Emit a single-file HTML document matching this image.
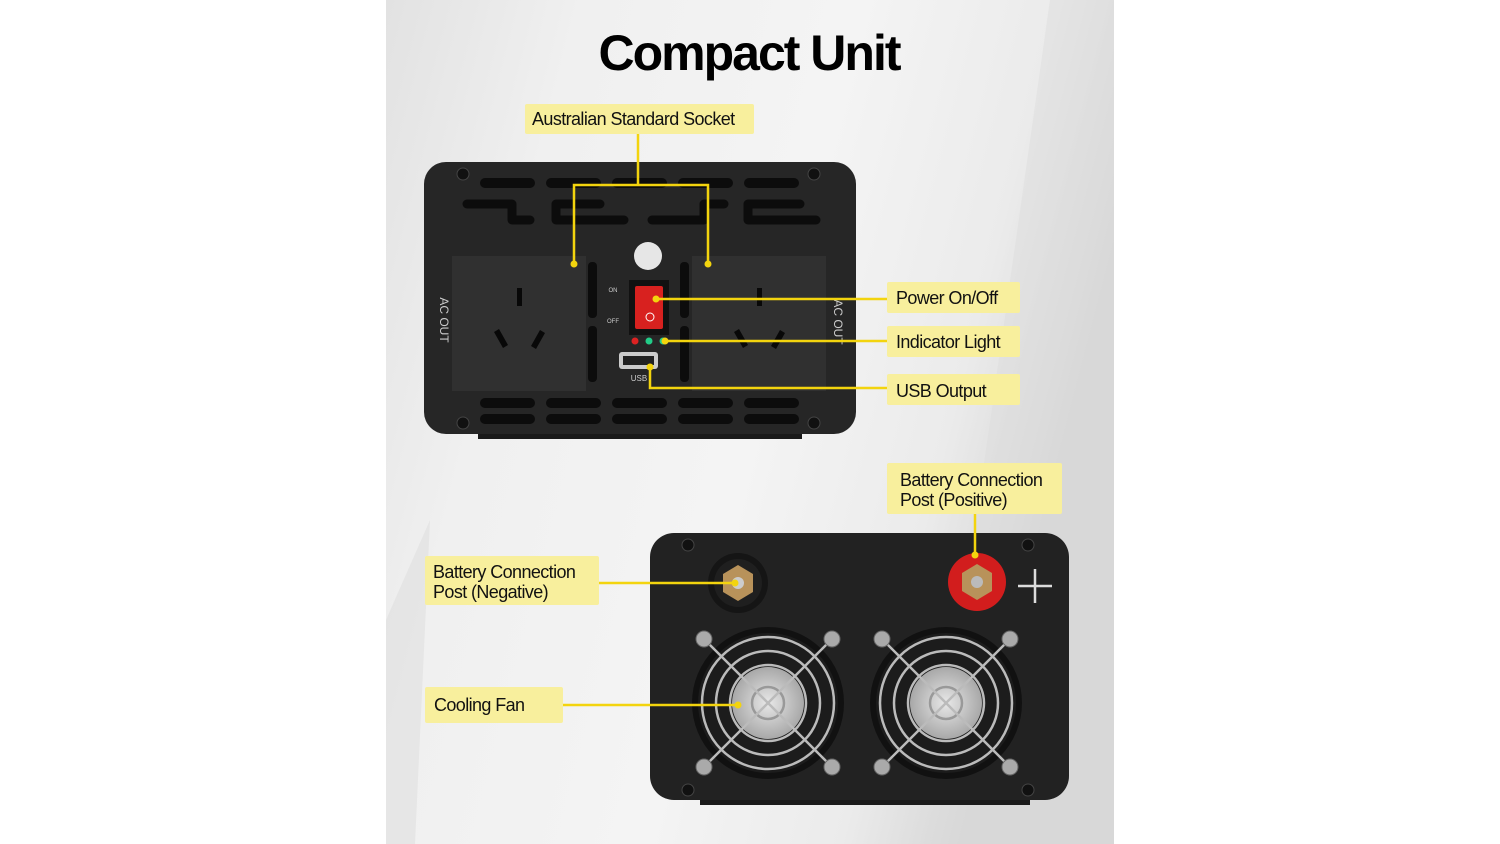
<!DOCTYPE html>
<html><head><meta charset="utf-8"><style>
html,body{margin:0;padding:0;background:#fff;width:1500px;height:844px;overflow:hidden}
svg{display:block}
text{font-family:"Liberation Sans",sans-serif}
.lb{font-size:18px;fill:#111;letter-spacing:-0.6px}
</style></head><body>
<svg width="1500" height="844" viewBox="0 0 1500 844" xmlns="http://www.w3.org/2000/svg">
<defs>
<linearGradient id="bg" x1="0" y1="0" x2="1" y2="0.3">
<stop offset="0" stop-color="#e2e2e2"/><stop offset="0.25" stop-color="#f0f0f0"/><stop offset="0.6" stop-color="#f4f4f4"/><stop offset="0.85" stop-color="#ebebeb"/><stop offset="1" stop-color="#d6d6d6"/>
</linearGradient>
<radialGradient id="fanc" cx="0.5" cy="0.5" r="0.5"><stop offset="0" stop-color="#e8e8e8"/><stop offset="1" stop-color="#a8a8a8"/></radialGradient>
<g id="fan">
<circle r="76" fill="#111"/>
<circle r="70" fill="#1c1c1c"/>
<circle r="36" fill="url(#fanc)"/>
<circle r="66" fill="none" stroke="#bbb" stroke-width="2.5"/>
<circle r="52" fill="none" stroke="#bbb" stroke-width="2.5"/>
<circle r="38" fill="none" stroke="#bbb" stroke-width="2.5"/>
<circle r="16" fill="none" stroke="#999" stroke-width="2.5"/>
<line x1="-62" y1="-62" x2="62" y2="62" stroke="#bbb" stroke-width="2.5"/>
<line x1="62" y1="-62" x2="-62" y2="62" stroke="#bbb" stroke-width="2.5"/>
<circle cx="-64" cy="-64" r="8" fill="#aaa" stroke="#666"/>
<circle cx="64" cy="-64" r="8" fill="#aaa" stroke="#666"/>
<circle cx="-64" cy="64" r="8" fill="#aaa" stroke="#666"/>
<circle cx="64" cy="64" r="8" fill="#aaa" stroke="#666"/>
</g>
</defs>
<rect x="386" y="0" width="728" height="844" fill="url(#bg)"/>
<polygon points="1050,0 1114,0 1114,844 930,844" fill="#dcdcdc" opacity="0.45"/>
<polygon points="386,620 430,520 415,844 386,844" fill="#d6d6d6" opacity="0.4"/>
<text x="749" y="70" text-anchor="middle" font-size="50" font-weight="bold" fill="#000" letter-spacing="-2">Compact Unit</text>

<!-- top device -->
<rect x="478" y="426" width="324" height="13" fill="#1a1a1a"/>
<rect x="424" y="162" width="432" height="272" rx="22" fill="#262626"/>
<g fill="#0c0c0c">
<rect x="480" y="178" width="55" height="10" rx="5"/><rect x="546" y="178" width="55" height="10" rx="5"/><rect x="612" y="178" width="55" height="10" rx="5"/><rect x="678" y="178" width="55" height="10" rx="5"/><rect x="744" y="178" width="55" height="10" rx="5"/>
<rect x="480" y="398" width="55" height="10" rx="5"/><rect x="546" y="398" width="55" height="10" rx="5"/><rect x="612" y="398" width="55" height="10" rx="5"/><rect x="678" y="398" width="55" height="10" rx="5"/><rect x="744" y="398" width="55" height="10" rx="5"/>
<rect x="480" y="414" width="55" height="10" rx="5"/><rect x="546" y="414" width="55" height="10" rx="5"/><rect x="612" y="414" width="55" height="10" rx="5"/><rect x="678" y="414" width="55" height="10" rx="5"/><rect x="744" y="414" width="55" height="10" rx="5"/>
<rect x="588" y="262" width="9" height="56" rx="4"/><rect x="588" y="326" width="9" height="56" rx="4"/>
<rect x="680" y="262" width="9" height="56" rx="4"/><rect x="680" y="326" width="9" height="56" rx="4"/>
</g>
<g stroke="#0c0c0c" stroke-width="9" stroke-linecap="round" stroke-linejoin="round" fill="none">
<path d="M467,204 H512 V220 H530"/>
<path d="M600,204 H556 V220 H624"/>
<path d="M652,220 H704 V204 H724"/>
<path d="M816,220 H748 V204 H800"/>
</g>
<g fill="#111" stroke="#444"><circle cx="463" cy="174" r="6"/><circle cx="814" cy="174" r="6"/><circle cx="463" cy="423" r="6"/><circle cx="814" cy="423" r="6"/></g>
<rect x="452" y="256" width="134" height="135" fill="#303030"/>
<rect x="692" y="256" width="134" height="135" fill="#303030"/>
<g fill="#080808">
<rect x="517" y="288" width="5" height="18"/><path d="M494,332 l5,-3 l9,16 l-5,3z"/><path d="M540,330 l5,3 l-9,16 l-5,-3z"/>
<rect x="757" y="288" width="5" height="18"/><path d="M734,332 l5,-3 l9,16 l-5,3z"/><path d="M780,330 l5,3 l-9,16 l-5,-3z"/>
</g>
<text x="440" y="320" font-size="12" fill="#ccc" transform="rotate(90 440 320)" text-anchor="middle">AC  OUT</text>
<text x="834" y="322" font-size="12" fill="#ccc" transform="rotate(90 834 322)" text-anchor="middle">AC  OUT</text>
<circle cx="648" cy="256" r="14" fill="#e6e6e6"/>
<rect x="629" y="280" width="40" height="55" fill="#111"/>
<rect x="635" y="286" width="28" height="43" rx="2" fill="#d8211f"/>
<circle cx="650" cy="317" r="4" fill="none" stroke="#fff" stroke-width="1"/>
<text x="613" y="292" font-size="6" fill="#ccc" text-anchor="middle">ON</text>
<text x="613" y="323" font-size="6" fill="#ccc" text-anchor="middle">OFF</text>
<circle cx="635" cy="341" r="3.5" fill="#d22"/><circle cx="649" cy="341" r="3.5" fill="#2c8"/><circle cx="663" cy="341" r="3.5" fill="#2c8"/>
<rect x="619" y="352" width="39" height="17" rx="3" fill="#ccc"/><rect x="623" y="356" width="31" height="9" fill="#222"/>
<text x="639" y="381" font-size="8" fill="#ccc" text-anchor="middle">USB</text>

<!-- bottom device -->
<rect x="700" y="795" width="330" height="10" fill="#1a1a1a"/>
<rect x="650" y="533" width="419" height="267" rx="24" fill="#222"/>
<g fill="#111" stroke="#444"><circle cx="688" cy="545" r="6"/><circle cx="1028" cy="545" r="6"/><circle cx="688" cy="790" r="6"/><circle cx="1028" cy="790" r="6"/></g>
<circle cx="738" cy="583" r="30" fill="#151515"/><circle cx="738" cy="583" r="24" fill="#1f1f1f"/>
<polygon points="738,565 753,574 753,592 738,601 723,592 723,574" fill="#b8925a"/><circle cx="738" cy="583" r="6" fill="#ccc"/>
<circle cx="977" cy="582" r="29" fill="#d21d1d"/>
<polygon points="977,564 992,573 992,591 977,600 962,591 962,573" fill="#b8925a"/><circle cx="977" cy="582" r="6" fill="#bbb"/>
<path d="M1018,586 h34 M1035,569 v34" stroke="#ddd" stroke-width="2.5"/>
<use href="#fan" x="768" y="703"/>
<use href="#fan" x="946" y="703"/>

<!-- connectors -->
<g stroke="#f3d40e" stroke-width="2.5" fill="none">
<path d="M638,134 V185 M574,264 V185 H708 V264"/>
<path d="M656,299 H887"/>
<path d="M665,341 H887"/>
<path d="M650,367 V388 H887"/>
<path d="M975,513 V555"/>
<path d="M599,583 H735"/>
<path d="M563,705 H738"/>
</g>
<g fill="#f3d40e"><circle cx="574" cy="264" r="3.5"/><circle cx="708" cy="264" r="3.5"/><circle cx="656" cy="299" r="3.5"/><circle cx="665" cy="341" r="3.5"/><circle cx="650" cy="367" r="3.5"/><circle cx="975" cy="555" r="3.5"/><circle cx="735" cy="583" r="3.5"/><circle cx="738" cy="705" r="3.5"/></g>

<!-- labels -->
<g fill="#f8ef9d">
<rect x="525" y="104" width="229" height="30" rx="2"/>
<rect x="887" y="282" width="133" height="31" rx="2"/>
<rect x="887" y="326" width="133" height="31" rx="2"/>
<rect x="887" y="374" width="133" height="31" rx="2"/>
<rect x="887" y="463" width="175" height="51" rx="2"/>
<rect x="425" y="556" width="174" height="49" rx="2"/>
<rect x="425" y="687" width="138" height="36" rx="2"/>
</g>
<text class="lb" x="532" y="125">Australian Standard Socket</text>
<text class="lb" x="896" y="304">Power On/Off</text>
<text class="lb" x="896" y="348">Indicator Light</text>
<text class="lb" x="896" y="397">USB Output</text>
<text class="lb" x="900" y="486">Battery Connection</text>
<text class="lb" x="900" y="506">Post (Positive)</text>
<text class="lb" x="433" y="578">Battery Connection</text>
<text class="lb" x="433" y="598">Post (Negative)</text>
<text class="lb" x="434" y="711">Cooling Fan</text>
</svg>
</body></html>
